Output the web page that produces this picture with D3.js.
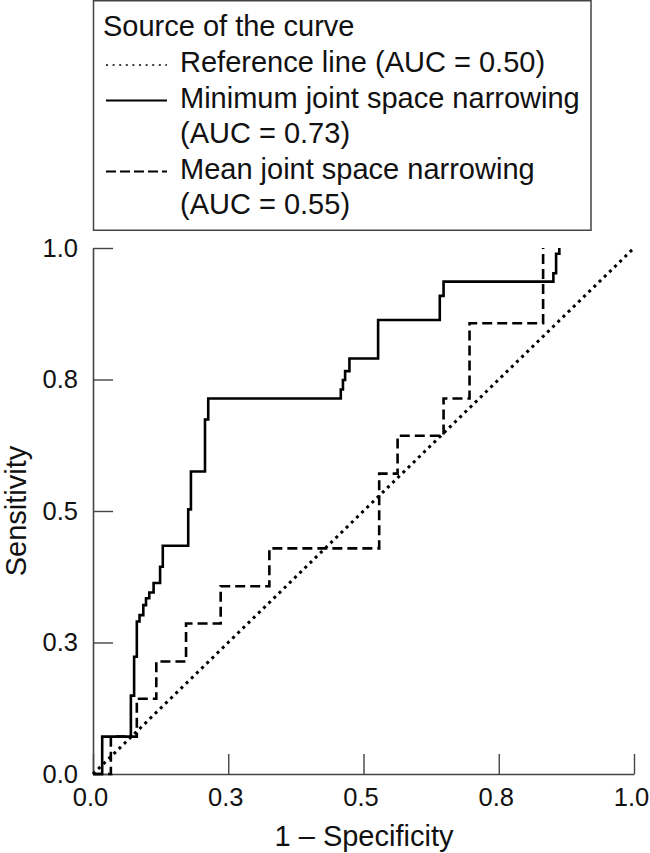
<!DOCTYPE html>
<html><head><meta charset="utf-8">
<script src="https://cdn.jsdelivr.net/npm/d3@7"></script>
<style>
body{margin:0;background:#fff}
text{font-family:"Liberation Sans",Arial,Helvetica,sans-serif;fill:#111}
</style>
</head><body>
<svg id="c" width="650" height="853"></svg>
<script>
// ---- data ----
const tickValues = [0, 0.25, 0.5, 0.75, 1];
const tickLabels = ["0.0", "0.3", "0.5", "0.8", "1.0"];

const refFpr = [0, 1];
const refTpr = [0, 1];

const minFpr = [0, 0.017, 0.070, 0.076, 0.081, 0.086, 0.093, 0.098, 0.104, 0.112, 0.124, 0.129, 0.176, 0.181, 0.207, 0.213, 0.458, 0.462, 0.466, 0.474, 0.527, 0.641, 0.648, 0.851, 0.856, 0.862];
const minTpr = [0, 0.071, 0.149, 0.223, 0.290, 0.302, 0.321, 0.334, 0.345, 0.363, 0.394, 0.434, 0.503, 0.575, 0.674, 0.714, 0.731, 0.749, 0.766, 0.790, 0.863, 0.909, 0.936, 0.952, 0.989, 1.0];

const meanFpr = [0, 0.033, 0.081, 0.117, 0.172, 0.236, 0.326, 0.529, 0.563, 0.648, 0.696, 0.832];
const meanTpr = [0, 0.071, 0.143, 0.214, 0.286, 0.357, 0.429, 0.571, 0.643, 0.714, 0.857, 1.0];

const legendTitle = "Source of the curve";
const legendNames = ["Reference line (AUC = 0.50)", "Minimum joint space narrowing", "Mean joint space narrowing"];
const legendAuc = ["", "(AUC = 0.73)", "(AUC = 0.55)"];
const xTitle = "1 \u2013 Specificity";
const yTitle = "Sensitivity";

// ---- drawing ----
const svg = d3.select("#c");
const x = d3.scaleLinear().domain([0, 1]).range([93, 634]);
const y = d3.scaleLinear().domain([0, 1]).range([774, 248]);

const axisColor = "#444";
const FONT = '"Liberation Sans",Arial,Helvetica,sans-serif';

// axes
const fmt = d => tickLabels[tickValues.indexOf(d)];
const gx = svg.append("g").attr("transform", `translate(0,${y(0)})`)
  .call(d3.axisBottom(x).tickValues(tickValues).tickFormat(fmt).tickSizeInner(-20).tickSizeOuter(0).tickPadding(14));
const gy = svg.append("g").attr("transform", `translate(${x(0)},0)`)
  .call(d3.axisLeft(y).tickValues(tickValues).tickFormat(fmt).tickSizeInner(-20).tickSizeOuter(0).tickPadding(15));
[gx, gy].forEach(g => {
  g.select(".domain").attr("stroke", axisColor).attr("stroke-width", 1.6);
  g.selectAll(".tick line").attr("stroke", axisColor).attr("stroke-width", 1.4);
  g.selectAll(".tick text").attr("font-size", 25.5).attr("fill", "#111").style("font-family", FONT);
});
gx.selectAll(".tick text").attr("dx", "-3");

// curves
const stepLine = d3.line().x(d => x(d[0])).y(d => y(d[1])).curve(d3.curveStepAfter);
const straight = d3.line().x(d => x(d[0])).y(d => y(d[1]));

svg.append("path").datum(refFpr.map((f, i) => [f, refTpr[i]]))
  .attr("d", straight).attr("fill", "none").attr("stroke", "#000")
  .attr("stroke-width", 3).attr("stroke-dasharray", "3,4.2");

svg.append("path").datum(meanFpr.map((f, i) => [f, meanTpr[i]]))
  .attr("d", stepLine).attr("fill", "none").attr("stroke", "#000")
  .attr("stroke-width", 2.6).attr("stroke-dasharray", "10,5");

svg.append("path").datum(minFpr.map((f, i) => [f, minTpr[i]]))
  .attr("d", stepLine).attr("fill", "none").attr("stroke", "#000")
  .attr("stroke-width", 2.6);

// axis titles
svg.append("text").attr("x", 364).attr("y", 846).attr("text-anchor", "middle")
  .attr("font-size", 29).text(xTitle);
svg.append("text").attr("transform", "translate(26,511) rotate(-90)").attr("text-anchor", "middle")
  .attr("font-size", 29).text(yTitle);

// legend
const LF = 29;
const lg = svg.append("g");
lg.append("rect").attr("x", 93.5).attr("y", 0.75).attr("width", 497.5).attr("height", 229.5)
  .attr("fill", "#fff").attr("stroke", axisColor).attr("stroke-width", 1.5);
lg.append("text").attr("x", 103).attr("y", 36).attr("font-size", LF).text(legendTitle);
const rowBase = [72, 107.5, 178.5];
const dashes = ["2,4.6", null, "10,4"];
const widths = [1.6, 2, 2];
legendNames.forEach((name, i) => {
  const yb = rowBase[i];
  const ln = lg.append("line").attr("x1", 106).attr("x2", 167).attr("y1", yb - 7).attr("y2", yb - 7)
    .attr("stroke", "#000").attr("stroke-width", widths[i]);
  if (dashes[i]) ln.attr("stroke-dasharray", dashes[i]);
  lg.append("text").attr("x", 180).attr("y", yb).attr("font-size", LF).text(name);
  if (legendAuc[i]) lg.append("text").attr("x", 180).attr("y", yb + 35.5).attr("font-size", LF).text(legendAuc[i]);
});
</script>
</body></html>
